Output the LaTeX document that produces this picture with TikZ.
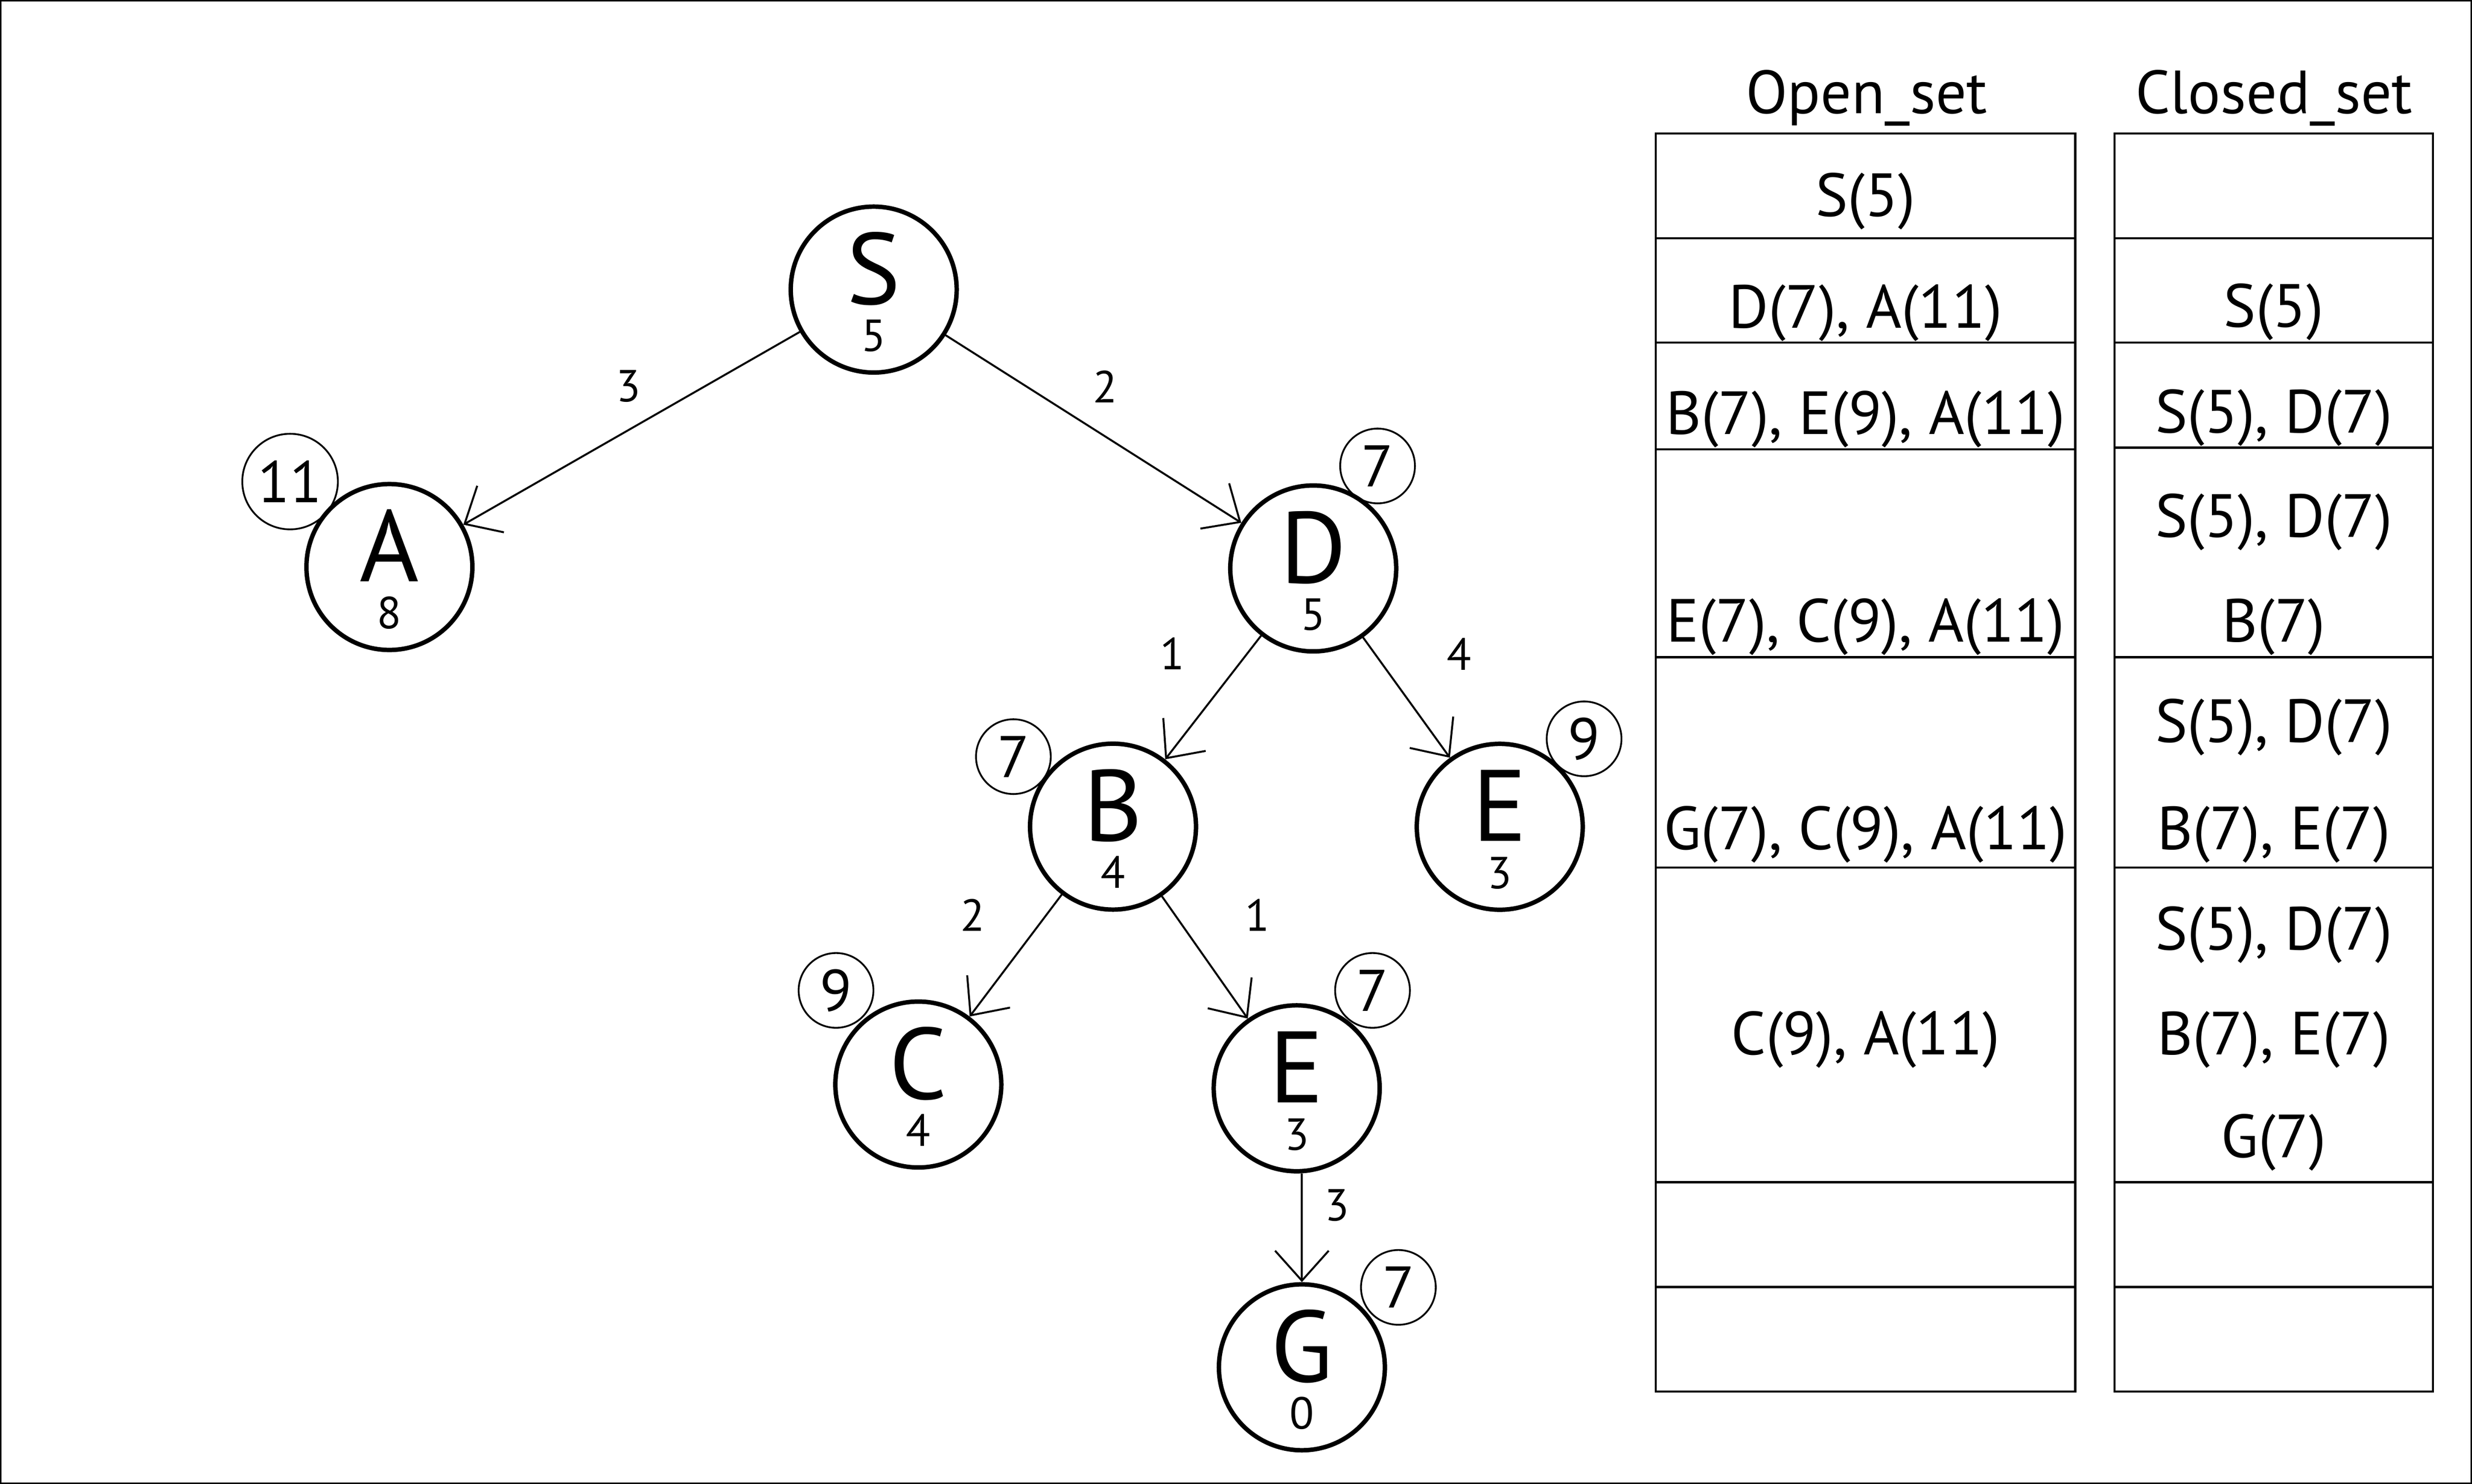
\documentclass[tikz,border=0pt]{standalone}
\usepackage{fontspec}
\setmainfont{PT Sans}
\usetikzlibrary{arrows.meta, positioning}

\begin{document}
\begin{tikzpicture}[x=0.01cm, y=-0.01cm]
    \tikzstyle{every node} = [inner sep=0pt]
    \tikzstyle{vertex} = [draw, circle, line width=0.8pt, minimum size=1.052cm]
    \tikzstyle{fval} = [draw, circle, line width=0.32pt, minimum size=0.474cm, font=\fontsize{10.6}{12}\selectfont]
    \tikzstyle{letter} = [anchor=base, font=\fontsize{18.3}{20}\selectfont]
    \tikzstyle{hval} = [anchor=base, font=\fontsize{8.1}{9}\selectfont]
    \tikzstyle{cost} = [font=\fontsize{8.1}{9}\selectfont]
    \tikzstyle{link} = [-{Straight Barb[length=0.19cm, width=0.34cm]}, line width=0.35pt]
    \tikzstyle{cell} = [draw, line width=0.4pt]
    \tikzstyle{entry} = [anchor=base, font=\fontsize{11}{13}\selectfont]
    \useasboundingbox (0,0) rectangle (1568,941.4);
    \draw[line width=0.28pt] (0.5,0.5) rectangle (1567.5,940.9);
    % place nodes
    \node[vertex] (S) at (554.2,183.7) {};
    \node[letter] (S-l) at ([yshift=-0.092cm]S.center) {S};
    \node[hval] (S-h) at ([yshift=-0.391cm]S.center) {5};
    \node[vertex] (A) at (247,359.7) {};
    \node[letter] (A-l) at ([yshift=-0.092cm]A.center) {A};
    \node[hval] (A-h) at ([yshift=-0.391cm]A.center) {8};
    \node[vertex] (D) at (833,360.6) {};
    \node[letter] (D-l) at ([yshift=-0.092cm]D.center) {D};
    \node[hval] (D-h) at ([yshift=-0.391cm]D.center) {5};
    \node[vertex] (B) at (706,524.4) {};
    \node[letter] (B-l) at ([yshift=-0.092cm]B.center) {B};
    \node[hval] (B-h) at ([yshift=-0.391cm]B.center) {4};
    \node[vertex] (E1) at (951.3,524.5) {};
    \node[letter] (E1-l) at ([yshift=-0.092cm]E1.center) {E};
    \node[hval] (E1-h) at ([yshift=-0.391cm]E1.center) {3};
    \node[vertex] (C) at (582.5,688) {};
    \node[letter] (C-l) at ([yshift=-0.092cm]C.center) {C};
    \node[hval] (C-h) at ([yshift=-0.391cm]C.center) {4};
    \node[vertex] (E2) at (822.5,690.4) {};
    \node[letter] (E2-l) at ([yshift=-0.092cm]E2.center) {E};
    \node[hval] (E2-h) at ([yshift=-0.391cm]E2.center) {3};
    \node[vertex] (G) at (825.8,867.4) {};
    \node[letter] (G-l) at ([yshift=-0.092cm]G.center) {G};
    \node[hval] (G-h) at ([yshift=-0.391cm]G.center) {0};
    % f values
    \node[fval, minimum size=0.606cm] (A-f) at (184,305.5) {11};
    \node[fval] (D-f) at (873.8,295.6) {7};
    \node[fval] (B-f) at (642.8,480) {7};
    \node[fval] (E1-f) at (1004.8,468.7) {9};
    \node[fval] (C-f) at (530.3,628.3) {9};
    \node[fval] (E2-f) at (870.6,628.3) {7};
    \node[fval] (G-f) at (887,816.7) {7};
    % Connections
    \draw[link] (S) -- node[cost, midway, above=1.6mm, xshift=-0.2mm](SA){3} (A);
    \draw[link] (S) -- node[cost, midway, above=1.6mm, xshift=0.75mm](SD){2} (D);
    \draw[link] (D) -- node[cost, midway, above left=1.7mm and 1.75mm](DB){1} (B);
    \draw[link] (D) -- node[cost, midway, above right=1.7mm and 2.5mm](DE){4} (E1);
    \draw[link] (B) -- node[cost, midway, above left=1.5mm and 1.9mm](BC){2} (C);
    \draw[link] (B) -- node[cost, midway, above right=1.6mm and 2.5mm](BE){1} (E2);
    \draw[link] (E2.south -| G) -- node[cost, midway, above right=0.36mm and 1.4mm](EG){3} (G);
    % Open_set / Closed_set
    \node[entry] (open) at (1184,72) {Open\_set};
    \node[entry] (closed) at (1442.4,72) {Closed\_set};
    \draw[cell] (1050.3,84.6) rectangle (1316.3,882.7);
    \draw[cell] (1341.2,84.6) rectangle (1543.2,882.7);
    \draw[cell] (1050.3,151.1) -- (1316.3,151.1) (1050.3,217.4) -- (1316.3,217.4)
        (1050.3,285) -- (1316.3,285) (1050.3,417) -- (1316.3,417)
        (1050.3,550.4) -- (1316.3,550.4) (1050.3,749.9) -- (1316.3,749.9)
        (1050.3,816.5) -- (1316.3,816.5);
    \draw[cell] (1341.2,151.1) -- (1543.2,151.1) (1341.2,217.4) -- (1543.2,217.4)
        (1341.2,284) -- (1543.2,284) (1341.2,417) -- (1543.2,417)
        (1341.2,550.4) -- (1543.2,550.4) (1341.2,749.9) -- (1543.2,749.9)
        (1341.2,816.5) -- (1543.2,816.5);
    \node[entry] (open1) at (1183.3,137.3) {S(5)};
    \node[entry] (open2) at (1183.3,208.2) {D(7), A(11)};
    \node[entry] (open3) at (1183.3,275.4) {B(7), E(9), A(11)};
    \node[entry] (open4) at (1183.3,407.3) {E(7), C(9), A(11)};
    \node[entry] (open5) at (1183.3,538.9) {G(7), C(9), A(11)};
    \node[entry] (open6) at (1183.3,669.2) {C(9), A(11)};
    \node[entry] (closed2) at (1442.2,207.5) {S(5)};
    \node[entry] (closed3) at (1442.2,274.4) {S(5), D(7)};
    \node[entry] (closed4a) at (1442.2,340.7) {S(5), D(7)};
    \node[entry] (closed4b) at (1442.2,407.3) {B(7)};
    \node[entry] (closed5a) at (1442.2,471) {S(5), D(7)};
    \node[entry] (closed5b) at (1442.2,538.9) {B(7), E(7)};
    \node[entry] (closed6a) at (1442.2,602.6) {S(5), D(7)};
    \node[entry] (closed6b) at (1442.2,669.2) {B(7), E(7)};
    \node[entry] (closed6c) at (1442.2,734.2) {G(7)};
\end{tikzpicture}
\end{document}
